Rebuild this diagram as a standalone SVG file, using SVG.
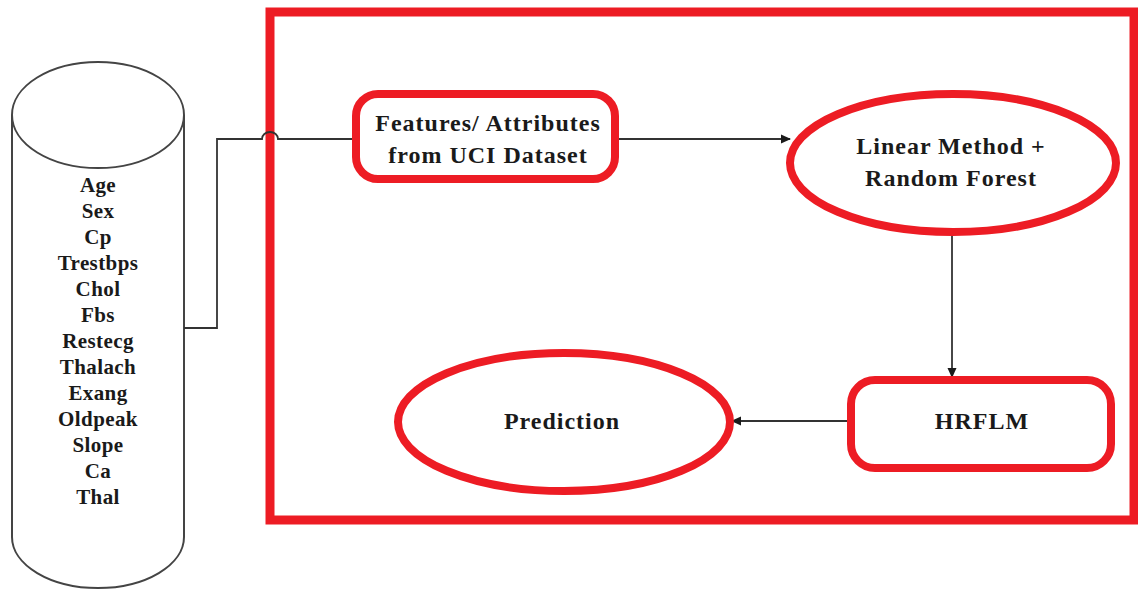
<svg xmlns="http://www.w3.org/2000/svg" width="1138" height="591" viewBox="0 0 1138 591">
  <style>
    .red { fill: #ffffff; stroke: #ed1c24; stroke-width: 8; }
    .cyl { fill: #ffffff; stroke: #444444; stroke-width: 2; }
    .wire { fill: none; stroke: #333333; stroke-width: 1.8; }
    text { font-family: 'Liberation Serif', 'Times New Roman', serif; font-weight: bold; fill: #1a1a1a; text-anchor: middle; }
    .big { font-size: 24px; letter-spacing: 1px; }
    .attr { font-size: 21px; letter-spacing: 0.4px; }
  </style>
  <defs>
    <marker id="arrow" markerWidth="10" markerHeight="10" refX="9" refY="5" orient="auto" markerUnits="userSpaceOnUse">
      <path d="M0,0.5 L10,5 L0,9.5 Z" fill="#1a1a1a"/>
    </marker>
  </defs>

  <rect width="1138" height="591" fill="#ffffff"/>

  <!-- data store cylinder with attribute list -->
  <g id="dataset">
    <path class="cyl" d="M12,115 L12,537 A86,51 0 0 0 184,537 L184,115"/>
    <ellipse class="cyl" cx="98" cy="115" rx="86" ry="53"/>
    <text class="attr" x="98" y="192">Age</text>
    <text class="attr" x="98" y="218">Sex</text>
    <text class="attr" x="98" y="244">Cp</text>
    <text class="attr" x="98" y="270">Trestbps</text>
    <text class="attr" x="98" y="296">Chol</text>
    <text class="attr" x="98" y="322">Fbs</text>
    <text class="attr" x="98" y="348">Restecg</text>
    <text class="attr" x="98" y="374">Thalach</text>
    <text class="attr" x="98" y="400">Exang</text>
    <text class="attr" x="98" y="426">Oldpeak</text>
    <text class="attr" x="98" y="452">Slope</text>
    <text class="attr" x="98" y="478">Ca</text>
    <text class="attr" x="98" y="504">Thal</text>
  </g>

  <!-- system boundary -->
  <g id="system">
    <rect x="270" y="12" width="864" height="508" fill="none" stroke="#ed1c24" stroke-width="9"/>
  </g>

  <!-- connectors -->
  <g id="connectors">
    <path class="wire" d="M184,328 L217,328 L217,139 L262,139 A8,7 0 0 1 278,139 L355,139"/>
    <path class="wire" d="M615,139 L790,139" marker-end="url(#arrow)"/>
    <path class="wire" d="M952,234 L952,377" marker-end="url(#arrow)"/>
    <path class="wire" d="M848,421 L732,421" marker-end="url(#arrow)"/>
  </g>

  <g id="features">
    <rect class="red" x="356" y="94" width="259" height="85" rx="22" ry="22"/>
    <text class="big" x="488" y="131">Features/ Attributes</text>
    <text class="big" x="488" y="163">from UCI Dataset</text>
  </g>

  <g id="linear-rf">
    <ellipse class="red" cx="953" cy="163" rx="163" ry="69"/>
    <text class="big" x="951" y="154">Linear Method +</text>
    <text class="big" x="951" y="186">Random Forest</text>
  </g>

  <g id="hrflm">
    <rect class="red" x="851" y="380" width="260" height="88" rx="24" ry="24"/>
    <text class="big" x="982" y="429">HRFLM</text>
  </g>

  <g id="prediction">
    <ellipse class="red" cx="564" cy="422" rx="166" ry="69"/>
    <text class="big" x="562" y="429">Prediction</text>
  </g>
</svg>
